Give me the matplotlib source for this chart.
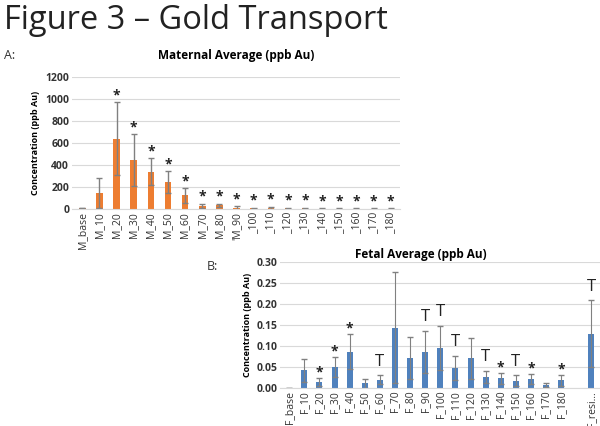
import matplotlib
matplotlib.use("Agg")
import matplotlib.pyplot as plt
import numpy as np

plt.rcParams['font.family'] = ['Open Sans', 'DejaVu Sans']

# Maternal data (ppb Au)
m_labels = ["M_base", "M_10", "M_20", "M_30", "M_40", "M_50", "M_60", "M_70", "M_80", "'M_90",
            "_100", "_110", "_120", "_130", "_140", "_150", "_160", "_170", "_180"]
m_means = [10, 145, 640, 445, 340, 245, 125, 30, 35, 10, 8, 12, 8, 8, 5, 5, 5, 5, 5]
m_errs = [0, 135, 330, 235, 120, 100, 65, 20, 15, 15, 5, 8, 5, 5, 3, 3, 3, 3, 3]
m_marks = ["", "", "*", "*", "*", "*", "*", "*", "*", "*", "*", "*", "*", "*", "*", "*", "*", "*", "*"]

# Fetal data (ppb Au); empty slot before F_resid
f_labels = ["F_base", "F_10", "F_20", "F_30", "F_40", "F_50", "F_60", "F_70", "F_80", "F_90",
            "F_100", "F_110", "F_120", "F_130", "F_140", "F_150", "F_160", "F_170", "F_180", "",
            "F_resi\u2026"]
f_means = [0, 0.042, 0.015, 0.050, 0.087, 0.011, 0.020, 0.144, 0.072, 0.086,
           0.095, 0.048, 0.071, 0.026, 0.023, 0.017, 0.022, 0.007, 0.019, np.nan, 0.129]
f_errs = [0, 0.027, 0.009, 0.023, 0.042, 0.010, 0.010, 0.133, 0.050, 0.051,
          0.053, 0.029, 0.049, 0.015, 0.013, 0.013, 0.012, 0.005, 0.013, np.nan, 0.080]
f_marks = ["", "", "*", "*", "*", "", "T", "", "", "T",
           "T", "T", "", "T", "*", "T", "*", "", "*", "", "T"]

ORANGE = "#ED7D31"
BLUE = "#4F81BD"
ERR = "#808080"
GRID = "#D9D9D9"

fig = plt.figure(figsize=(6.0, 4.26), dpi=100)

fig.text(0.006, 0.99, "Figure 3 \u2013 Gold Transport", fontsize=23.5, va="top", ha="left",
         color="#222222")
fig.text(0.006, 0.87, "A:", fontsize=9, va="center", color="#333333")
fig.text(0.345, 0.375, "B:", fontsize=9, va="center", color="#333333")


def style_axes(ax):
    for s in ["top", "right", "left"]:
        ax.spines[s].set_visible(False)
    ax.spines["bottom"].set_color(GRID)
    ax.yaxis.grid(True, color=GRID, linewidth=0.8)
    ax.set_axisbelow(True)
    ax.tick_params(axis="both", length=0, colors="#333333", pad=2)
    ax.tick_params(axis="y", labelsize=7.5)
    for t in ax.get_yticklabels():
        t.set_fontweight("bold")


# A: maternal
ax1 = fig.add_axes([0.12, 0.509, 0.547, 0.311])
x1 = np.arange(len(m_labels))
ax1.bar(x1, m_means, width=0.38, color=ORANGE)
ax1.errorbar(x1, m_means, yerr=m_errs, fmt="none", ecolor=ERR, elinewidth=1, capsize=2.5)
ax1.set_ylim(0, 1200)
ax1.set_yticks(np.arange(0, 1201, 200))
ax1.set_xlim(-0.6, len(m_labels) - 0.45)
ax1.set_xticks(x1)
ax1.set_xticklabels(m_labels, rotation=90, fontsize=7.5)
style_axes(ax1)
ax1.set_ylabel("Concentration (ppb Au)", fontsize=6.5, fontweight="bold", labelpad=4)
ax1.set_title("Maternal Average (ppb Au)", fontsize=8.5, fontweight="bold", pad=13)
for xi, m, e, mk in zip(x1, m_means, m_errs, m_marks):
    if mk:
        ax1.annotate(mk, (xi, m + e), xytext=(0, 0), textcoords="offset points",
                     ha="center", va="bottom", fontsize=10, fontweight="bold", color="#222222")

# B: fetal
ax2 = fig.add_axes([0.467, 0.089, 0.533, 0.296])
x2 = np.arange(len(f_labels))
ax2.bar(x2, f_means, width=0.4, color=BLUE)
ax2.errorbar(x2, f_means, yerr=f_errs, fmt="none", ecolor=ERR, elinewidth=0.8, capsize=2.5)
ax2.set_ylim(0, 0.30)
ax2.set_yticks(np.arange(0, 0.301, 0.05))
ax2.set_yticklabels([f"{v:.2f}" for v in np.arange(0, 0.301, 0.05)])
ax2.set_xlim(-0.6, 20.57)
ax2.set_xticks(x2)
ax2.set_xticklabels(f_labels, rotation=90, fontsize=7.5)
style_axes(ax2)
ax2.set_ylabel("Concentration (ppb Au)", fontsize=6.5, fontweight="bold", labelpad=3)
ax2.set_title("Fetal Average (ppb Au)", fontsize=8.5, fontweight="bold", pad=3, x=0.44)
for xi, m, e, mk in zip(x2, f_means, f_errs, f_marks):
    if mk == "*":
        ax2.annotate(mk, (xi, m + e), xytext=(0, -1), textcoords="offset points",
                     ha="center", va="bottom", fontsize=10, fontweight="bold", color="#222222")
    elif mk == "T":
        ax2.annotate(mk, (xi, m + e), xytext=(0, 4), textcoords="offset points",
                     ha="center", va="bottom", fontsize=12, color="#222222")

fig.savefig("out.png", dpi=100)
